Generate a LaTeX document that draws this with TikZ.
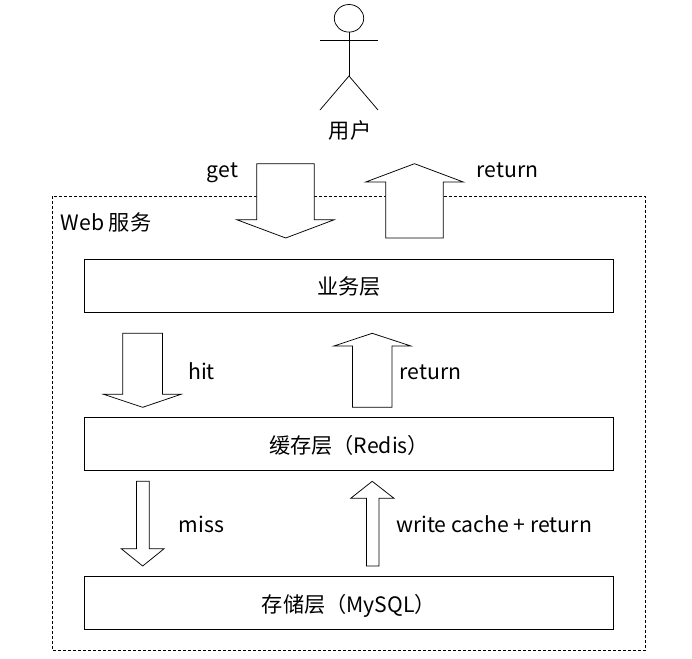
\documentclass[tikz,border=0pt]{standalone}
\usepackage{fontspec}
\setmainfont{Noto Sans CJK SC}
\tikzset{
 px/.style={x=1pt,y=-1pt},
 layerbox/.style={draw=black,line width=0.75pt,fill=white,minimum width=529pt,minimum height=53pt,inner sep=0pt,text height=18.6pt,text depth=0.6pt,font=\fontsize{21.2}{25}\selectfont,text=black},
 blockarrow/.style={draw=black,line width=0.75pt,fill=white,line join=miter},
 lbl/.style={font=\fontsize{21.2}{25}\selectfont,text=black,inner sep=0pt,anchor=base},
 limb/.style={draw=black,line width=0.75pt},
}
\begin{document}
\begin{tikzpicture}[px]
\useasboundingbox (0,0) rectangle (692,658);
\fill[white] (0,0) rectangle (692,658);
\draw[black,line width=0.75pt,dash pattern=on 3pt off 2pt] (52.8,196) rectangle (645,650.8);
% actor
\draw[limb] (349,18.3) ellipse [x radius=14.7,y radius=13.8];
\coordinate (neck) at (349,32.1);
\coordinate (hip) at (349,76);
\draw[limb] (neck) -- (hip);
\draw[limb] (320,40.3) -- (378,40.3);
\draw[limb] (320,110) -- (hip) -- (378,110);
\node[lbl] (user) at (350,138.5) {用户};
% block arrows
\draw[blockarrow] (256.7,163.7) -- (314.3,163.7) -- (314.3,219.7) -- (334.3,219.7) -- (285.7,238) -- (236.7,219.7) -- (256.7,219.7) -- cycle;
\draw[blockarrow] (385.7,238) -- (443.3,238) -- (443.3,182) -- (463.3,182) -- (414.5,163.7) -- (365.7,182) -- (385.7,182) -- cycle;
\draw[blockarrow] (122.8,333.3) -- (162.6,333.3) -- (162.6,394.3) -- (181,394.3) -- (142.7,407.3) -- (103.6,394.3) -- (122.8,394.3) -- cycle;
\draw[blockarrow] (352.6,407.3) -- (392,407.3) -- (392,346) -- (410.9,346) -- (372.2,333.3) -- (333.9,346) -- (352.6,346) -- cycle;
\draw[blockarrow] (136.6,481.3) -- (149.2,481.3) -- (149.2,548.7) -- (164.1,548.7) -- (142.7,566) -- (121.2,548.7) -- (136.6,548.7) -- cycle;
\draw[blockarrow] (366.4,566) -- (379,566) -- (379,498.3) -- (394,498.3) -- (372.2,481.3) -- (350.7,498.3) -- (366.4,498.3) -- cycle;
% layers
\node[layerbox] (biz) at (349,285.5) {业务层};
\node[layerbox] (cache) at (349,444.3) {缓存层（Redis）};
\node[layerbox] (store) at (349,603.2) {存储层（MySQL）};
\node[lbl] (web) at (106,230.5) {Web 服务};
\node[lbl] (get) at (222.5,177.7) {get};
\node[lbl] (ret1) at (507.7,177.7) {return};
\node[lbl] (hit) at (201.5,379.3) {hit};
\node[lbl] (ret2) at (430.7,379.3) {return};
\node[lbl] (miss) at (201.3,532.7) {miss};
\node[lbl] (wcr) at (494,532.7) {write cache + return};
\end{tikzpicture}
\end{document}
